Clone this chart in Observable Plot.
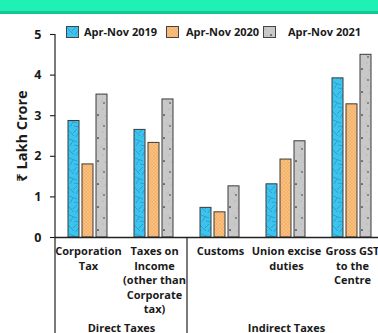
<!DOCTYPE html>
<html>
<head>
<meta charset="utf-8">
<script src="https://cdn.jsdelivr.net/npm/d3@7"></script>
<script src="https://cdn.jsdelivr.net/npm/@observablehq/plot@0.6"></script>
<style>
  body { margin: 0; background: #fff; font-family: "Open Sans", "Noto Sans", sans-serif; color: #1a1a1a; }
  #wrap { position: relative; width: 378px; height: 333px; overflow: hidden; }
  #banner { height: 11px; background: #1ff0b3; border-bottom: 3px solid #13c892; }
  #legend { position: absolute; top: 26px; left: 0; height: 12px; font-size: 11px; font-weight: 700; }
  #legend .item { position: absolute; top: 0; display: flex; align-items: center; white-space: nowrap; line-height: 12px; }
  #legend svg { display: block; }
</style>
</head>
<body>
<div id="wrap">
  <div id="banner"></div>
  <div id="chart"></div>
  <div id="legend"></div>
</div>
<script>
// Gross tax collections, ₹ lakh crore
const categories = [
  "Corporation Tax",
  "Taxes on Income (other than Corporate tax)",
  "Customs",
  "Union excise duties",
  "Gross GST to the Centre"
];
const categoryLabels = [
  "Corporation\nTax",
  "Taxes on\nIncome\n(other than\nCorporate\ntax)",
  "Customs",
  "Union excise\nduties",
  "Gross GST\nto the\nCentre"
];
const groupLabels = ["Direct Taxes", "Indirect Taxes"];
const years = ["Apr-Nov 2019", "Apr-Nov 2020", "Apr-Nov 2021"];
const values2019 = [2.87, 2.65, 0.73, 1.31, 3.92];
const values2020 = [1.80, 2.33, 0.62, 1.92, 3.28];
const values2021 = [3.52, 3.40, 1.26, 2.37, 4.50];
const yTicks = [0, 1, 2, 3, 4, 5];
const yLabel = "₹ Lakh Crore";

// one patterned fill per period
const patternIds = ["pat-2019", "pat-2020", "pat-2021"];
const fills = patternIds.map(id => `url(#${id})`);

const rows = categories.flatMap((c, i) =>
  [values2019[i], values2020[i], values2021[i]].map((v, j) => ({category: c, year: years[j], value: v}))
);

const font = "'Open Sans', 'Noto Sans', sans-serif";

const chart = Plot.plot({
  width: 378,
  height: 319,
  marginTop: 20,
  marginBottom: 96,
  marginLeft: 53,
  marginRight: 0,
  style: {fontFamily: font, color: "#1a1a1a", background: "#fff"},
  fx: {domain: categories, range: [53.5, 385.5], padding: 0, axis: null},
  x: {domain: years, paddingInner: 0.2, paddingOuter: 0, insetLeft: 12.3, insetRight: 12.3, axis: null},
  y: {domain: [0, 5], axis: null},
  color: {type: "ordinal", domain: years, range: fills},
  marks: [
    Plot.barY(rows, {fx: "category", x: "year", y: "value", fill: "year", stroke: "#3a3a3a", strokeWidth: 1}),
    Plot.ruleY([0], {stroke: "#222", strokeWidth: 1.3}),
    Plot.axisY({ticks: yTicks, tickFormat: d => String(d), tickSize: 5, tickPadding: 9, fontSize: 12.5, fontWeight: 700, label: null, strokeWidth: 1.1}),
    Plot.axisY({ticks: [], tickSize: 0, label: yLabel, labelAnchor: "center", labelArrow: "none", labelOffset: 39, fontSize: 14.5, fontWeight: 700}),
    Plot.text(categories, {
      fx: d => d, text: (d, i) => categoryLabels[i],
      frameAnchor: "bottom", lineAnchor: "top", dy: 7,
      fontSize: 11, fontWeight: 700, lineHeight: 1.33, fill: "#1a1a1a"
    }),
    Plot.text([groupLabels[0]], {
      fx: () => categories[1], frameAnchor: "bottom-left", textAnchor: "middle",
      lineAnchor: "middle", dy: 91, fontSize: 11, fontWeight: 700, fill: "#1a1a1a"
    }),
    Plot.text([groupLabels[1]], {
      fx: () => categories[3], frameAnchor: "bottom", textAnchor: "middle",
      lineAnchor: "middle", dy: 91, fontSize: 11, fontWeight: 700, fill: "#1a1a1a"
    })
  ]
});

// pattern definitions used by the bars and the legend swatches
const defs = d3.create("svg:defs");
{
  const p = defs.append("pattern").attr("id", patternIds[0]).attr("patternUnits", "userSpaceOnUse")
    .attr("width", 13).attr("height", 19);
  p.append("rect").attr("width", 13).attr("height", 19).attr("fill", "#3cc4ef");
  p.append("path").attr("fill", "none").attr("stroke", "#2290c6").attr("stroke-width", 0.7)
    .attr("d", "M1,2L7,8M10,1L6,5M2,11L10,14M9,9L12,4M3,18L6,13M7,17L12,18M0,6L2,8");
}
{
  const p = defs.append("pattern").attr("id", patternIds[1]).attr("patternUnits", "userSpaceOnUse")
    .attr("width", 3.4).attr("height", 3.4);
  p.append("rect").attr("width", 3.4).attr("height", 3.4).attr("fill", "#f5ad62");
  p.append("circle").attr("cx", 0.85).attr("cy", 0.85).attr("r", 0.75).attr("fill", "#fbd39e");
  p.append("circle").attr("cx", 2.55).attr("cy", 2.55).attr("r", 0.75).attr("fill", "#fbd39e");
}
{
  const p = defs.append("pattern").attr("id", patternIds[2]).attr("patternUnits", "userSpaceOnUse")
    .attr("width", 11).attr("height", 23);
  p.append("rect").attr("width", 11).attr("height", 23).attr("fill", "#c8c8c8");
  const specks = [[2, 3, 0.5, "#9a9a9a"], [7, 6, 0.45, "#e6e6e6"], [4, 10, 0.5, "#a5a5a5"], [9, 14, 0.45, "#e6e6e6"],
                  [1, 18, 0.5, "#a0a0a0"], [6, 21, 0.45, "#e8e8e8"]];
  specks.forEach(([x, y, r, c]) => p.append("circle").attr("cx", x).attr("cy", y).attr("r", r).attr("fill", c));
  p.append("circle").attr("cx", 8).attr("cy", 9).attr("r", 0.85).attr("fill", "#222");
  p.append("circle").attr("cx", 3).attr("cy", 20).attr("r", 0.8).attr("fill", "#333");
}
chart.insertBefore(defs.node(), chart.firstChild);

// axis line and the divider between direct and indirect taxes, running to the bottom edge
const fxScale = chart.scale("fx");
const yScale = chart.scale("y");
const dividers = [
  {category: categories[0], from: yTicks[yTicks.length - 1]},
  {category: categories[2], from: 0}
];
d3.select(chart).append("g").attr("stroke", "#222").attr("stroke-width", 1.2)
  .selectAll("line").data(dividers).join("line")
  .attr("x1", d => fxScale.apply(d.category)).attr("x2", d => fxScale.apply(d.category))
  .attr("y1", d => yScale.apply(d.from)).attr("y2", 319);

document.getElementById("chart").appendChild(chart);

// legend
const legendLefts = [66, 166, 263];
const legendGaps = [5, 7, 12];
const legend = d3.select("#legend");
years.forEach((y, i) => {
  const item = legend.append("div").attr("class", "item").style("left", legendLefts[i] + "px");
  const sw = item.append("svg").attr("width", 13).attr("height", 12).style("margin-right", legendGaps[i] + "px");
  sw.append("rect").attr("x", 0.5).attr("y", 0.5).attr("width", 12).attr("height", 11)
    .attr("fill", fills[i]).attr("stroke", "#444");
  item.append("span").text(y);
});
</script>
</body>
</html>
